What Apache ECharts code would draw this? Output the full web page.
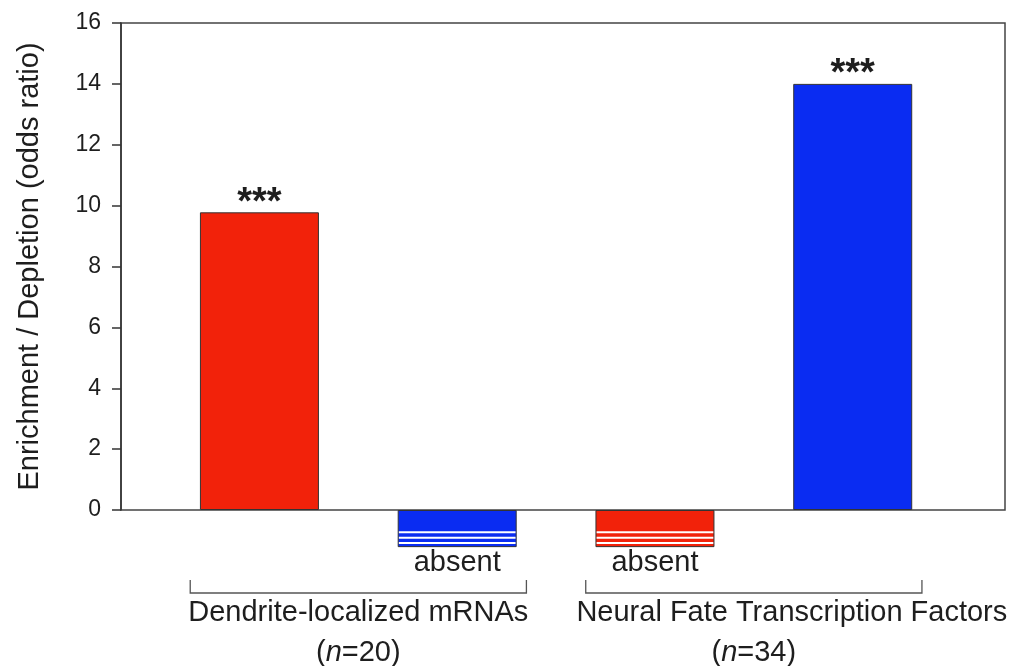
<!DOCTYPE html>
<html>
<head>
<meta charset="utf-8">
<script src="https://cdn.jsdelivr.net/npm/echarts@6/dist/echarts.min.js"></script>
<style>
html,body{margin:0;padding:0;background:#fff;}
#chart{width:1013px;height:666px;}
</style>
</head>
<body>
<div id="chart"></div>
<script>
// ---- data ----
var categories = ['Dendrite enrichment', 'Dendrite depletion', 'Neural TF depletion', 'Neural TF enrichment'];
var positions = [1, 2, 3, 4];
var oddsRatios = [9.78, -1.22, -1.22, 14.0];   // negative = "absent" placeholder depth
var barLabels = ['***', 'absent', 'absent', '***'];
var barColors = ['#f2220a', '#0a2cf2', '#f2220a', '#0a2cf2'];
var absentFlags = [false, true, true, false];
var groupNames = ['Dendrite-localized mRNAs', 'Neural Fate Transcription Factors'];
var groupN = ['20', '34'];
var groupSpans = [[1, 2], [3, 4]];
var yTicks = [0, 2, 4, 6, 8, 10, 12, 14, 16];

// styling: horizontal shift (px) of each group's name label relative to its bracket
var groupNameShift = [0, 38];

var FONT = '"Liberation Sans", Arial, Helvetica, sans-serif';
var TXT = '#1e1e1e';

var barData = positions.map(function (p, i) {
  return {
    value: [p, oddsRatios[i]],
    itemStyle: { color: barColors[i] },
    label: {
      show: true,
      position: 'outside',
      formatter: barLabels[i],
      fontSize: absentFlags[i] ? 29 : 38,
      fontWeight: absentFlags[i] ? 'normal' : 'bold',
      color: TXT,
      fontFamily: FONT,
      distance: absentFlags[i] ? 1 : -10
    }
  };
});

var stripeData = [];
positions.forEach(function (p, i) {
  if (absentFlags[i]) stripeData.push([p, oddsRatios[i]]);
});

var chart = echarts.init(document.getElementById('chart'), null, { renderer: 'canvas' });

chart.setOption({
  animation: false,
  backgroundColor: '#ffffff',
  grid: {
    left: 121, right: 8, top: 23, bottom: 156,
    show: true, borderColor: '#444', borderWidth: 1.5, backgroundColor: 'transparent'
  },
  xAxis: {
    type: 'value', min: 0.3, max: 4.77, show: false
  },
  yAxis: {
    type: 'value', min: yTicks[0], max: yTicks[yTicks.length - 1], interval: 2,
    axisLine: { show: true, lineStyle: { color: '#333', width: 1.5 } },
    axisTick: { show: true, inside: false, length: 9, lineStyle: { color: '#333', width: 1.5 } },
    axisLabel: { fontSize: 23, color: TXT, fontFamily: FONT, margin: 20 },
    splitLine: { show: false },
    name: 'Enrichment / Depletion (odds ratio)',
    nameLocation: 'middle',
    nameGap: 77,
    nameTextStyle: { fontSize: 29, color: TXT, fontFamily: FONT }
  },
  series: [
    {
      type: 'bar',
      data: barData,
      barWidth: 119,
      clip: false,
      itemStyle: { borderColor: '#333', borderWidth: 1 },
      z: 2
    },
    {
      type: 'custom',
      coordinateSystem: 'cartesian2d',
      data: stripeData,
      clip: false,
      z: 3,
      silent: true,
      renderItem: function (params, api) {
        var x = api.value(0), v = api.value(1);
        var p0 = api.coord([x, 0]);
        var p1 = api.coord([x, v]);
        var w = api.size([0.6, 0])[0];
        var h = p1[1] - p0[1];
        var fr = [0.6, 0.75, 0.89];
        var children = fr.map(function (f) {
          var yy = p0[1] + h * f;
          return {
            type: 'line',
            shape: { x1: p0[0] - w / 2 + 1, y1: yy, x2: p0[0] + w / 2 - 1, y2: yy },
            style: { stroke: '#ffffff', lineWidth: 2 }
          };
        });
        return { type: 'group', children: children };
      }
    },
    {
      type: 'custom',
      coordinateSystem: 'cartesian2d',
      data: groupSpans,
      clip: false,
      silent: true,
      renderItem: function (params, api) {
        var a = api.value(0), b = api.value(1);
        var pl = api.coord([a - 0.35, 0]);
        var pr = api.coord([b + 0.35, 0]);
        var y0 = pl[1];
        var yb = y0 + 83, yt = y0 + 70;
        var cx = (pl[0] + pr[0]) / 2;
        var i = params.dataIndex;
        return {
          type: 'group',
          children: [
            { type: 'polyline', shape: { points: [[pl[0], yt], [pl[0], yb], [pr[0], yb], [pr[0], yt]] },
              style: { stroke: '#555', lineWidth: 1.3, fill: null } },
            { type: 'text', style: { text: groupNames[i], x: cx + groupNameShift[i], y: y0 + 103, align: 'center', verticalAlign: 'middle',
              fontSize: 29, fontFamily: FONT, fill: TXT } },
            { type: 'text', style: { text: '({i|n}=' + groupN[i] + ')', x: cx, y: y0 + 143, align: 'center', verticalAlign: 'middle',
              fontSize: 29, fontFamily: FONT, fill: TXT,
              rich: { i: { fontStyle: 'italic', fontSize: 29, fontFamily: FONT, fill: TXT } } } }
          ]
        };
      }
    }
  ]
});
</script>
</body>
</html>
